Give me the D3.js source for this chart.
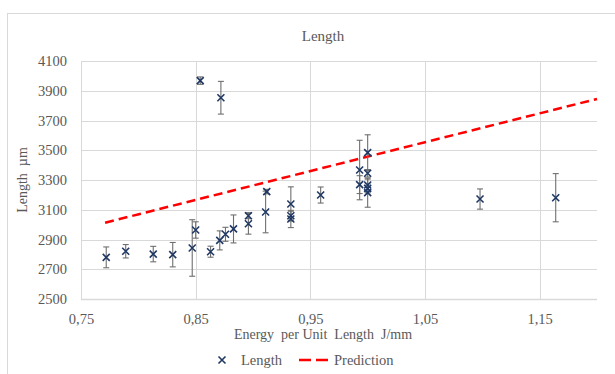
<!DOCTYPE html>
<html>
<head>
<meta charset="utf-8">
<script src="https://cdn.jsdelivr.net/npm/d3@7"></script>
<style>
  body { margin: 0; background: #fff; }
</style>
</head>
<body>
<div id="chart"></div>
<script>
// measured points: energy per unit length (J/mm), length (µm), error (±µm)
var energy = [0.772, 0.789, 0.813, 0.830, 0.847, 0.850, 0.854, 0.872, 0.863, 0.871,
              0.876, 0.883, 0.896, 0.896, 0.911, 0.912, 0.933, 0.933, 0.933, 0.959,
              0.993, 0.993, 1.000, 1.000, 1.000, 1.000, 1.000, 1.098, 1.164];
var lengthVals = [2780, 2821, 2802, 2798, 2843, 2964, 3968, 3853, 2818, 2894,
                  2935, 2971, 3060, 3006, 3085, 3222, 3139, 3060, 3038, 3199,
                  3367, 3269, 3484, 3345, 3266, 3244, 3215, 3172, 3181];
var lengthErr = [70, 45, 52, 82, 190, 55, 25, 110, 37, 64,
                 47, 94, 20, 70, 140, 15, 115, 30, 58, 54,
                 200, 60, 120, 25, 40, 30, 98, 68, 162];

// prediction line
var predEnergy = [0.771, 1.20];
var predLength = [3013, 3845];

var xTicks = [0.75, 0.85, 0.95, 1.05, 1.15];
var yTicks = [2500, 2700, 2900, 3100, 3300, 3500, 3700, 3900, 4100];

var svgWidth = 615;
var svgHeight = 374;
var margin = { top: 61, right: 18, bottom: 75, left: 81 };
var width = svgWidth - margin.left - margin.right;
var height = svgHeight - margin.top - margin.bottom;

var fontFam = "'Liberation Serif', 'Times New Roman', Times, 'DejaVu Serif', serif";

var svg = d3.select('#chart').append('svg')
    .attr('width', svgWidth)
    .attr('height', svgHeight)
    .attr('font-family', fontFam);

// chart frame (cut off at right/bottom)
svg.append('rect')
    .attr('x', 7.5).attr('y', 13.5)
    .attr('width', 700).attr('height', 500)
    .attr('fill', 'none')
    .attr('stroke', '#d9d9d9');

var g = svg.append('g')
    .attr('transform', `translate(${margin.left}, ${margin.top})`);

var x = d3.scaleLinear().domain([0.75, 1.20]).range([0, width]);
var y = d3.scaleLinear().domain([2500, 4100]).range([height, 0]);

// gridlines
g.selectAll('.hgrid')
    .data(yTicks)
    .enter()
    .append('line')
    .attr('x1', 0).attr('x2', width)
    .attr('y1', d => Math.round(y(d)) + 0.5)
    .attr('y2', d => Math.round(y(d)) + 0.5)
    .attr('stroke', '#d9d9d9')
    .attr('stroke-width', d => d === 2500 ? 1.5 : 1);

g.selectAll('.vgrid')
    .data(xTicks)
    .enter()
    .append('line')
    .attr('x1', d => Math.round(x(d)) + 0.5)
    .attr('x2', d => Math.round(x(d)) + 0.5)
    .attr('y1', 0).attr('y2', height)
    .attr('stroke', '#d9d9d9');

// axes (labels only)
var xAxis = g.append('g')
    .attr('transform', `translate(0, ${height})`)
    .call(d3.axisBottom(x).tickValues(xTicks).tickSize(0).tickPadding(15)
        .tickFormat(d => d3.format('.2f')(d).replace('.', ',')));
xAxis.select('.domain').remove();
xAxis.attr('font-family', fontFam).attr('font-size', 14.5);
xAxis.selectAll('text').attr('fill', '#595959');

var yAxis = g.append('g')
    .call(d3.axisLeft(y).tickValues(yTicks).tickSize(0).tickPadding(14)
        .tickFormat(d3.format('d')));
yAxis.select('.domain').remove();
yAxis.attr('font-family', fontFam).attr('font-size', 14.5);
yAxis.selectAll('text').attr('fill', '#595959');

// titles
svg.append('text')
    .attr('x', 323).attr('y', 41)
    .attr('text-anchor', 'middle')
    .attr('font-size', 15)
    .attr('fill', '#595959')
    .text('Length');

svg.append('text')
    .attr('x', 323).attr('y', 339)
    .attr('text-anchor', 'middle')
    .attr('font-size', 14)
    .attr('fill', '#595959')
    .style('white-space', 'pre')
    .text('Energy  per Unit  Length  J/mm');

svg.append('text')
    .attr('transform', `translate(27, ${margin.top + height / 2}) rotate(-90)`)
    .attr('text-anchor', 'middle')
    .attr('font-size', 14)
    .attr('fill', '#595959')
    .style('white-space', 'pre')
    .text('Length  µm');

// prediction line
var predData = predEnergy.map((e, i) => [e, predLength[i]]);
g.append('path')
    .datum(predData)
    .attr('d', d3.line().x(d => x(d[0])).y(d => y(d[1])))
    .attr('fill', 'none')
    .attr('stroke', '#ff0000')
    .attr('stroke-width', 2.5)
    .attr('stroke-dasharray', '9,5');

// error bars
var pts = energy.map((e, i) => ({ e: e, v: lengthVals[i], err: lengthErr[i] }));
var errG = g.append('g');
errG.selectAll('.ebar')
    .data(pts)
    .enter()
    .append('line')
    .attr('x1', d => x(d.e)).attr('x2', d => x(d.e))
    .attr('y1', d => y(d.v + d.err)).attr('y2', d => y(d.v - d.err))
    .attr('stroke', '#6f6f6f').attr('stroke-width', 1.1);
[1, -1].forEach(function (s) {
    errG.selectAll('.cap' + s)
        .data(pts)
        .enter()
        .append('line')
        .attr('x1', d => x(d.e) - 3).attr('x2', d => x(d.e) + 3)
        .attr('y1', d => y(d.v + s * d.err)).attr('y2', d => y(d.v + s * d.err))
        .attr('stroke', '#6f6f6f').attr('stroke-width', 1.1);
});

// markers
function drawX(sel, cx, cy) {
    sel.append('path')
        .attr('d', `M${cx - 3.5},${cy - 3.5}L${cx + 3.5},${cy + 3.5}M${cx - 3.5},${cy + 3.5}L${cx + 3.5},${cy - 3.5}`)
        .attr('stroke', '#203864')
        .attr('stroke-width', 1.6)
        .attr('fill', 'none');
}
var mk = g.append('g');
pts.forEach(d => drawX(mk, x(d.e), y(d.v)));

// legend
var leg = svg.append('g');
drawX(leg, 222, 360);
leg.append('text')
    .attr('x', 241).attr('y', 365)
    .attr('font-size', 14.5)
    .attr('fill', '#595959')
    .text('Length');
leg.append('line')
    .attr('x1', 299).attr('x2', 333)
    .attr('y1', 360).attr('y2', 360)
    .attr('stroke', '#ff0000')
    .attr('stroke-width', 2.5)
    .attr('stroke-dasharray', '12,5');
leg.append('text')
    .attr('x', 334).attr('y', 365)
    .attr('font-size', 14.5)
    .attr('fill', '#595959')
    .text('Prediction');
</script>
</body>
</html>
